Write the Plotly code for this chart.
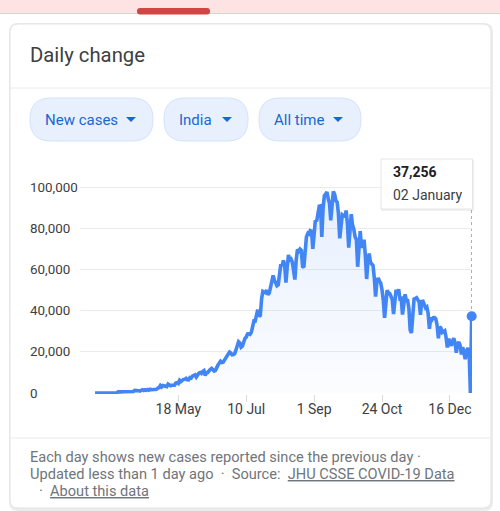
import pandas as pd
import plotly.graph_objects as go

# daily new cases, India, 14 Mar 2020 .. 02 Jan 2021
mar = [20, 12, 5, 23, 14, 38, 50, 86, 66, 103, 37, 121, 70, 160, 100, 82, 227, 146]
apr = [545, 424, 486, 560, 579, 609, 484, 573, 565, 813, 871, 854, 758, 1243, 1031,
       886, 1061, 922, 1371, 1580, 1239, 1537, 1292, 1667, 1408, 1835, 1607, 1568, 1902, 1705]
may = [1801, 2396, 2564, 3656, 2971, 3587, 3364, 3344, 3113, 4353, 3607, 3524, 3763, 3942,
       3787, 4864, 5050, 4630, 6147, 5553, 6198, 6568, 6629, 7111, 6414, 6387, 7466, 7254,
       8138, 8336, 8782]
jun = [7723, 8821, 9633, 9889, 9471, 10438, 10864, 8442, 9987, 9985, 10956, 11458, 11929,
       11502, 10667, 10974, 12881, 13586, 14516, 15413, 14821, 14933, 15968, 16922, 17296,
       18552, 19906, 19459, 18522, 18653]
jul = [19148, 20903, 22771, 24850, 24248, 22252, 22752, 24879, 26506, 27114, 28637, 28701,
       28498, 29429, 32695, 34956, 34884, 38902, 40425, 37148, 37724, 45720, 49310, 48916,
       48661, 49931, 47704, 48513, 52123, 55078, 57118]
aug = [54735, 52972, 52050, 52509, 56282, 62538, 61537, 64399, 62064, 53601, 60963, 66999,
       64553, 65002, 63490, 57981, 55079, 64531, 69652, 68898, 69878, 69239, 61408, 60975,
       67151, 75760, 77266, 76472, 78761, 78512, 69921]
sep = [78357, 83883, 83341, 86432, 90632, 90802, 75809, 89706, 95735, 96551, 97570, 94372,
       92071, 83809, 90123, 97894, 96424, 93337, 92605, 86961, 75083, 83347, 86508, 86052,
       85362, 88600, 82170, 70589, 80472, 86821]
oct_ = [81484, 79476, 75829, 74442, 61267, 72049, 78524, 70496, 73272, 74383, 66732, 55342,
        63509, 67708, 63371, 62212, 61871, 55722, 46790, 54044, 55838, 54366, 53370, 50129,
        45149, 36469, 43893, 49881, 48648, 48268, 46964]
nov = [45230, 38310, 46253, 50210, 47638, 50357, 45674, 45903, 38073, 44281, 47905, 44879,
       44878, 41100, 30548, 29163, 38617, 45576, 45882, 46232, 45209, 44059, 37975, 44376,
       44489, 43082, 41322, 41810, 38772, 31118]
dec = [36604, 35551, 36595, 36652, 36011, 32981, 26567, 32080, 31521, 29398, 30006, 30254,
       27071, 22065, 26382, 24010, 22890, 25152, 26624, 24337, 19556, 23950, 24712, 23067,
       18732, 22273, 20021, 16432, 20550, 21822, 20035]
jan = [0, 37256]

new_cases = mar + apr + may + jun + jul + aug + sep + oct_ + nov + dec + jan
dates = pd.date_range("2020-03-14", periods=len(new_cases), freq="D")

x_tickvals = ["2020-05-18", "2020-07-10", "2020-09-01", "2020-10-24", "2020-12-16"]
x_ticktext = ["18 May", "10 Jul", "1 Sep", "24 Oct", "16 Dec"]
y_tickvals = [0, 20000, 40000, 60000, 80000, 100000]

chips = ["New cases", "India", "All time"]
footer_1 = "Each day shows new cases reported since the previous day ·"
footer_2 = "Updated less than 1 day ago  ·  Source:  <u>JHU CSSE COVID-19 Data</u>"
footer_3 = "·  <u>About this data</u>"

BLUE = "#4285f4"
TEXT = "#3c4043"
GREY = "#70757a"
FONT = "Roboto"

# plot area in pixels (figure is 500 x 511)
L, R, T, B = 80, 472, 166, 394


def px(x):
    return (x - L) / (R - L)


def py(y):
    return (B - y) / (B - T)


def rounded_rect(x0, y0, x1, y1, r):
    # rounded rectangle path in paper coords, inputs are pixels
    pts = [
        f"M{px(x0 + r)},{py(y0)}",
        f"L{px(x1 - r)},{py(y0)}",
        f"Q{px(x1)},{py(y0)} {px(x1)},{py(y0 + r)}",
        f"L{px(x1)},{py(y1 - r)}",
        f"Q{px(x1)},{py(y1)} {px(x1 - r)},{py(y1)}",
        f"L{px(x0 + r)},{py(y1)}",
        f"Q{px(x0)},{py(y1)} {px(x0)},{py(y1 - r)}",
        f"L{px(x0)},{py(y0 + r)}",
        f"Q{px(x0)},{py(y0)} {px(x0 + r)},{py(y0)}",
        "Z",
    ]
    return " ".join(pts)


def triangle(cx, cy, w=10, h=5):
    return (f"M{px(cx - w / 2)},{py(cy - h / 2)} L{px(cx + w / 2)},{py(cy - h / 2)} "
            f"L{px(cx)},{py(cy + h / 2)} Z")


fig = go.Figure()

fig.add_trace(go.Scatter(
    x=dates, y=new_cases, mode="lines",
    line=dict(color=BLUE, width=3.6, shape="linear"),
    fill="tozeroy",
    fillgradient=dict(type="vertical", start=0, stop=100000,
                      colorscale=[[0, "rgba(66,133,244,0.02)"], [1, "rgba(66,133,244,0.13)"]]),
    hoverinfo="skip", cliponaxis=False, showlegend=False,
))
fig.add_trace(go.Scatter(
    x=[dates[-1]], y=[new_cases[-1]], mode="markers",
    marker=dict(color=BLUE, size=10), cliponaxis=False, showlegend=False, hoverinfo="skip",
))

shapes = []
# page strip + tab at the very top
shapes.append(dict(type="rect", xref="paper", yref="paper", x0=px(0), x1=px(500), y0=py(0), y1=py(13),
                   fillcolor="#fde3e3", line=dict(width=0), layer="below"))
shapes.append(dict(type="line", xref="paper", yref="paper", x0=px(0), x1=px(500), y0=py(13.5), y1=py(13.5),
                   line=dict(color="#f3c9c9", width=1), layer="below"))
shapes.append(dict(type="path", xref="paper", yref="paper", path=rounded_rect(137, 8, 210, 14.5, 3),
                   fillcolor="#d14545", line=dict(width=0), layer="below"))
# card shadow and card
shapes.append(dict(type="path", xref="paper", yref="paper", path=rounded_rect(9, 23, 493, 511, 9),
                   fillcolor="#ececec", line=dict(width=0), layer="below"))
shapes.append(dict(type="path", xref="paper", yref="paper", path=rounded_rect(10, 24, 491, 508, 8),
                   fillcolor="white", line=dict(color="#e3e3e3", width=1), layer="below"))
# separators
for sy in (88, 438):
    shapes.append(dict(type="line", xref="paper", yref="paper", x0=px(10), x1=px(491), y0=py(sy), y1=py(sy),
                       line=dict(color="#e8eaed", width=1), layer="below"))

# chips
chip_boxes = [(30, 153, 45, 131), (164, 248, 179, 227), (259, 361, 274, 338)]
for label, (cx0, cx1, tx, ax) in zip(chips, chip_boxes):
    shapes.append(dict(type="path", xref="paper", yref="paper", path=rounded_rect(cx0, 98, cx1, 141, 21),
                       fillcolor="#e8f0fe", line=dict(color="#d2e3fc", width=1), layer="below"))
    shapes.append(dict(type="path", xref="paper", yref="paper", path=triangle(ax, 119.5),
                       fillcolor="#1967d2", line=dict(width=0), layer="below"))

# hover guide + tooltip box
shapes.append(dict(type="line", xref="x", yref="paper", x0=dates[-1], x1=dates[-1], y0=py(393), y1=py(209),
                   line=dict(color="#9aa0a6", width=1, dash="dot"), layer="below"))
shapes.append(dict(type="rect", xref="paper", yref="paper", x0=px(381), x1=px(474), y0=py(160), y1=py(211),
                   fillcolor="rgba(0,0,0,0.06)", line=dict(width=0), layer="above"))
shapes.append(dict(type="rect", xref="paper", yref="paper", x0=px(381), x1=px(472.5), y0=py(159), y1=py(209),
                   fillcolor="white", line=dict(color="#e6e6e6", width=1), layer="above"))

annotations = []


def text(x, y, s, size=14, color=TEXT, anchor="left", yref="paper"):
    annotations.append(dict(
        x=px(x), y=py(y) if yref == "paper" else y, xref="paper", yref=yref, text=s, showarrow=False,
        xanchor=anchor, yanchor="middle", font=dict(family=FONT, size=size, color=color),
    ))


text(28, 55, "Daily change", size=20.3, color=TEXT)
for label, (cx0, cx1, tx, ax) in zip(chips, chip_boxes):
    text(tx - 2, 120, label, size=15, color="#1967d2")

# y tick labels are left aligned in the reference
for v in y_tickvals:
    text(28, v, f"{v:,}", size=13.4, color=TEXT, yref="y")

text(391, 172, f"<b>{new_cases[-1]:,}</b>", size=14, color="#202124")
text(391, 195, dates[-1].strftime("%d %B"), size=14, color=TEXT)

text(28, 457, footer_1, size=14.6, color=GREY)
text(28, 474, footer_2, size=14.6, color=GREY)
text(37, 491, footer_3, size=14.6, color=GREY)

fig.update_layout(
    width=500, height=511,
    margin=dict(l=L, r=500 - R, t=T, b=511 - B),
    paper_bgcolor="white", plot_bgcolor="rgba(0,0,0,0)",
    font=dict(family=FONT, size=14, color=TEXT),
    shapes=shapes, annotations=annotations,
    xaxis=dict(
        range=["2020-03-02 06:00", "2021-01-02 06:00"],
        tickvals=x_tickvals, ticktext=x_ticktext,
        showgrid=False, zeroline=False, showline=False,
        ticks="outside", ticklen=7, tickcolor="#dadce0", tickwidth=1,
        ticklabelstandoff=-5,
        tickfont=dict(family=FONT, size=14, color=TEXT),
    ),
    yaxis=dict(
        range=[-485, 110194], tickvals=y_tickvals, showticklabels=False,
        showgrid=True, gridcolor="#ebebeb", gridwidth=1, zeroline=False, showline=False,
    ),
)

# the page's default 8px body margin would shift the whole card
fig.write_html("out.html", config={"displayModeBar": False},
               post_script="document.body.style.margin='0';")
